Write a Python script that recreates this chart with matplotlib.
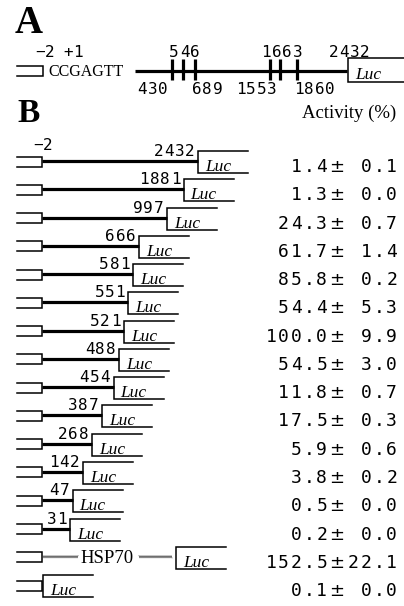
import numpy as np
import matplotlib
matplotlib.use('Agg')
import matplotlib.pyplot as plt

# --- data -------------------------------------------------------------
full_length = 2432
sites_above = [546, 1663]
sites_below = [430, 689, 1553, 1860]
below_dx = [-20, 12, -14, 17]          # label nudges so they don't collide

deletion_ends = [2432, 1881, 997, 666, 581, 551, 521, 488, 454, 387, 268, 142, 47, 31]
activity = [1.4, 1.3, 24.3, 61.7, 85.8, 54.4, 100.0, 54.5, 11.8, 17.5, 5.9, 3.8,
            0.5, 0.2, 152.5, 0.1]
activity_sd = [0.1, 0.0, 0.7, 1.4, 0.2, 5.3, 9.9, 3.0, 0.7, 0.3, 0.6, 0.2,
               0.0, 0.0, 22.1, 0.0]

# --- drawing scales (pixel space, y down) -----------------------------
W, H = 404, 606
ROW0, ROW_STEP = 161, 28.27
# panel B is drawn on a compressed, hand-tuned scale
B_KNOTS_BP = [0, 50, 150, 270, 400, 450, 600, 700, 1000, 1900, 2432]
B_KNOTS_PX = [65, 73, 84, 92, 103, 113, 136, 141, 167, 184, 198]
B_START = 42
LUC_W = 50
MONO = 'DejaVu Sans Mono'
SERIF = 'Liberation Serif'
LW_THICK = 2.3
LW_THIN = 1.1


def ax_x(bp):
    return 135 + bp * (347 - 135) / full_length


def bx(bp):
    return float(np.interp(bp, B_KNOTS_BP, B_KNOTS_PX))


def row_y(i):
    return ROW0 + ROW_STEP * i


def mono(ax, x, y, s, pitch, size, align='right'):
    n = len(s)
    if align == 'right':
        x0 = x - n * pitch
    elif align == 'center':
        x0 = x - n * pitch / 2
    else:
        x0 = x
    for i, ch in enumerate(s):
        if ch == ' ':
            continue
        ax.text(x0 + (i + 0.5) * pitch, y, ch, ha='center', va='baseline',
                family=MONO, fontsize=size)


def bracket(ax, x0, x1, ytop, ybot):
    ax.plot([x0, x1, x1, x0], [ytop, ytop, ybot, ybot], color='black',
            lw=LW_THIN, solid_joinstyle='miter')


def luc_box(ax, x, y, width=LUC_W, top=-10, bot=12):
    ax.plot([x + width, x, x, x + width], [y + top, y + top, y + bot, y + bot],
            color='black', lw=LW_THIN, solid_joinstyle='miter')
    ax.text(x + 7, y + 10, 'Luc', family=SERIF, style='italic', fontsize=12.5,
            ha='left', va='baseline')


def wavy(ax, x0, x1, y):
    xs = np.arange(x0, x1 + 0.01, 1.0)
    ys = y + np.where(np.arange(len(xs)) % 2 == 0, -1.2, 1.2)
    ax.plot(xs, ys, color='#333333', lw=0.5)


fig = plt.figure(figsize=(W / 100, H / 100), dpi=100)
ax = fig.add_axes([0, 0, 1, 1])
ax.set_xlim(0, W)
ax.set_ylim(H, 0)
ax.axis('off')

# --- panel A ----------------------------------------------------------
ax.text(15, 33, 'A', family=SERIF, weight='bold', fontsize=28, va='baseline')
ya = 71
bracket(ax, 17, 43, ya - 5, ya + 5)
ax.text(48, ya + 5, 'CCGAGTT', family=SERIF, fontsize=11.5, va='baseline')
mono(ax, 35, 57, '\u22122 +1', 9.6, 11.5, align='left')
ax.plot([ax_x(0), ax_x(full_length)], [ya, ya], color='black', lw=LW_THICK,
        solid_capstyle='butt')
for s in sorted(sites_above + sites_below):
    ax.plot([ax_x(s)] * 2, [ya - 12, ya + 9], color='black', lw=LW_THICK,
            solid_capstyle='butt')
for s in sites_above:
    mono(ax, ax_x(s) + 2, 57, str(s), 10.5, 11.5, align='center')
mono(ax, ax_x(full_length) + 2, 57, str(full_length), 10.5, 11.5, align='center')
for s, dx in zip(sites_below, below_dx):
    mono(ax, ax_x(s) + dx, 94, str(s), 10.5, 11.5, align='center')
ax.plot([W + 5, ax_x(full_length) + 1, ax_x(full_length) + 1, W + 5],
        [ya - 13, ya - 13, ya + 11, ya + 11], color='black', lw=LW_THIN,
        solid_joinstyle='miter')
ax.text(ax_x(full_length) + 8, ya + 8, 'Luc', family=SERIF, style='italic',
        fontsize=12.5, va='baseline')

# --- panel B ----------------------------------------------------------
ax.text(17, 122, 'B', family=SERIF, weight='bold', fontsize=24, va='baseline')
ax.text(396, 118, 'Activity (%)', family=SERIF, fontsize=13.5, ha='right',
        va='baseline')
mono(ax, 33, row_y(0) - 11, '\u22122', 9.6, 11.5, align='left')

for i, end in enumerate(deletion_ends):
    y = row_y(i)
    xe = bx(end)
    bracket(ax, 17, B_START, y - 4.5, y + 5.5)
    ax.plot([B_START, xe], [y, y], color='black', lw=LW_THICK,
            solid_capstyle='butt')
    luc_box(ax, xe, y)
    mono(ax, xe - 3, y - 5, str(end), 10.5, 11.5, align='right')

# HSP70 promoter control
i = len(deletion_ends)
y = row_y(i)
bracket(ax, 17, B_START, y - 4.5, y + 5.5)
wavy(ax, B_START, 78, y)
ax.text(107, y + 6, 'HSP70', family=SERIF, fontsize=13.5, ha='center',
        va='baseline')
wavy(ax, 139, 172, y)
luc_box(ax, 176, y)

# promoterless
y = row_y(i + 1)
bracket(ax, 17, B_START, y - 4.5, y + 5.5)
luc_box(ax, B_START + 1, y)

# activity column
for i, (v, e) in enumerate(zip(activity, activity_sd)):
    y = row_y(i) + 11
    mono(ax, 328, y, f'{v:.1f}', 12.7, 13, align='right')
    ax.text(337, y, '\u00b1', family='DejaVu Sans', fontsize=13, ha='center',
            va='baseline')
    mono(ax, 398, y, f'{e:.1f}', 12.7, 13, align='right')

fig.savefig('out.png', dpi=100)
